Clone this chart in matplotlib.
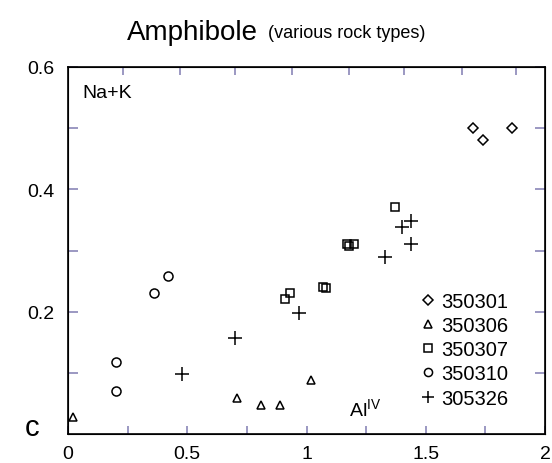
import matplotlib
matplotlib.use("Agg")
import matplotlib.pyplot as plt

plt.rcParams['font.family'] = ['Liberation Sans', 'DejaVu Sans']

# Al(IV) vs Na+K for each sample
x_350301 = [1.70, 1.74, 1.86]
y_350301 = [0.50, 0.48, 0.50]
x_350306 = [0.02, 0.71, 0.81, 0.89, 1.02]
y_350306 = [0.028, 0.059, 0.047, 0.047, 0.089]
x_350307 = [0.91, 0.93, 1.07, 1.08, 1.17, 1.18, 1.20, 1.37]
y_350307 = [0.220, 0.230, 0.241, 0.238, 0.311, 0.308, 0.310, 0.371]
x_350310 = [0.20, 0.20, 0.36, 0.42]
y_350310 = [0.071, 0.118, 0.231, 0.259]
x_305326 = [0.48, 0.70, 0.97, 1.33, 1.40, 1.44, 1.44]
y_305326 = [0.098, 0.157, 0.198, 0.289, 0.339, 0.349, 0.310]

top_ticks = [0.23, 0.47, 0.70, 0.94, 1.18, 1.41, 1.65, 1.88]
tick_col = '#8a86b8'

fig = plt.figure(figsize=(5.52, 4.64), dpi=100)
ax = fig.add_axes([68/552, 29/464, 477/552, 367/464])

mk = dict(linestyle='none', markerfacecolor='none', markeredgecolor='black', markeredgewidth=1.1)
ax.plot(x_350301, y_350301, marker='D', markersize=5.3, label='350301', **mk)
ax.plot(x_350306, y_350306, marker='^', markersize=6, label='350306', **mk)
ax.plot(x_350307, y_350307, marker='s', markersize=5.8, label='350307', **mk)
ax.plot(x_350310, y_350310, marker='o', markersize=6.5, label='350310', **mk)
ax.plot(x_305326, y_305326, marker='+', markersize=9.5, label='305326', **mk)

ax.set_xlim(0, 2)
ax.set_ylim(0, 0.6)
ax.set_xticks([0, 0.5, 1, 1.5, 2])
ax.set_xticklabels(['0', '0.5', '1', '1.5', '2'])
ax.set_xticks([0.25, 0.75, 1.25, 1.75], minor=True)
ax.set_yticks([0.2, 0.4, 0.6])
ax.set_yticklabels(['0.2', '0.4', '0.6'])
ax.set_yticks([0.1, 0.3, 0.5], minor=True)
ax.tick_params(axis='both', which='both', direction='in', color=tick_col, width=1.2,
               labelsize=14, top=False)
ax.tick_params(axis='x', which='both', length=6, pad=8)
ax.tick_params(axis='y', which='both', length=7, pad=10, right=True)
for s in ax.spines.values():
    s.set_linewidth(1.2)

# top edge ticks sit at their own spacing
tx = ax.twiny()
tx.set_xlim(0, 2)
tx.set_xticks(top_ticks)
tx.tick_params(axis='x', direction='in', length=6, width=1.2, color=tick_col, labeltop=False)

ax.text(0.03, 0.93, 'Na+K', transform=ax.transAxes, fontsize=14, ha='left', va='center')
ax.text(0.59, 0.07, r'Al$^{\mathregular{IV}}$', transform=ax.transAxes, fontsize=14,
        ha='left', va='center')
fig.text(32/552, 1 - 428/464, 'c', fontsize=21, ha='center', va='center')

fig.text(258/552, 1 - 33/464, 'Amphibole', fontsize=20, ha='right', va='center')
fig.text(268/552, 1 - 34/464, '(various rock types)', fontsize=13, ha='left', va='center')

ax.legend(loc='lower left', bbox_to_anchor=(0.742, 0.072), frameon=False, fontsize=14.5,
          handlelength=0.6, handletextpad=0.35, labelspacing=0.26, borderaxespad=0,
          borderpad=0, markerscale=0.9)

fig.savefig('out.png', dpi=100)
